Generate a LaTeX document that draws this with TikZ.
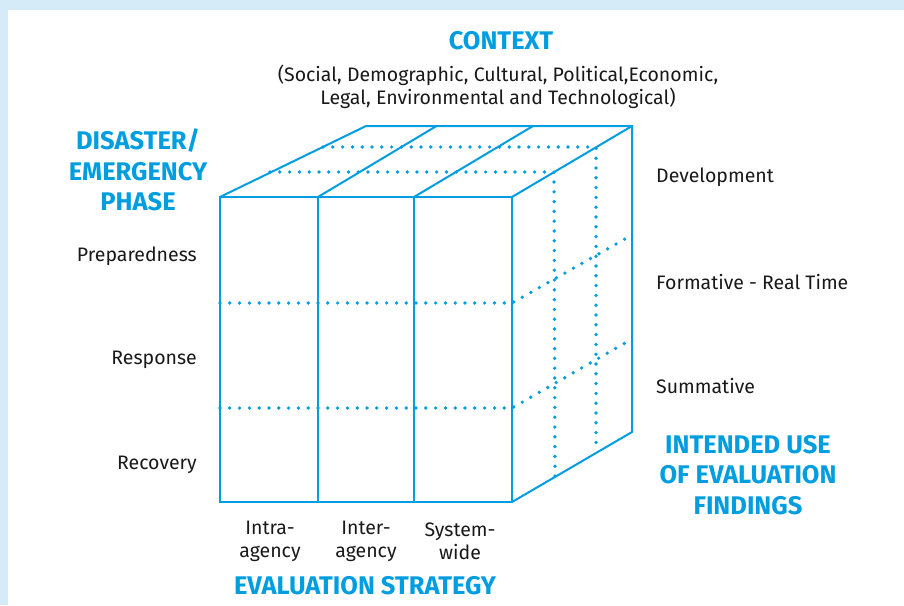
\documentclass[tikz,border=0pt]{standalone}
\usepackage{fontspec}
\setmainfont{Fira Sans}
\definecolor{cubeblue}{RGB}{0,158,224}
\definecolor{bandblue}{RGB}{214,235,248}
\begin{document}
\begin{tikzpicture}[x=1pt,y=-1pt,
  edge/.style={draw=cubeblue,line width=2pt,line join=miter},
  hidden/.style={draw=cubeblue,line width=3.7pt,line cap=round,dash pattern=on 0pt off 9.8pt},
  heading/.style={text=cubeblue,font=\fontsize{25.5}{30.5}\selectfont\bfseries,align=center,inner sep=0pt},
  label/.style={text=black!90,font=\fontsize{19.5}{23}\selectfont,inner sep=0pt},
]
\useasboundingbox (0,0) rectangle (904,605);
\fill[white] (0,0) rectangle (904,605);
\fill[bandblue] (0,0) rectangle (904,9.5);
\fill[bandblue] (0,0) rectangle (8,605);

% front face corners and column / row positions
\coordinate (F1) at (220,197);
\coordinate (F2) at (318,197);
\coordinate (F3) at (414,197);
\coordinate (F4) at (512,197);
\coordinate (B1) at (220,502);
\coordinate (B4) at (512,502);
% back top edge
\coordinate (T1) at (366,126);
\coordinate (T2) at (436.5,126);
\coordinate (T3) at (533,126);
\coordinate (T4) at (632,126);
% back right bottom
\coordinate (R4) at (632,432);

% hidden lines
\draw[hidden] (270,172) -- (554,172) -- (555,476);
\draw[hidden] (323,147) -- (596,147) -- (596,451);
\draw[hidden] (220,303) -- (512,303) -- (632,235);
\draw[hidden] (220,408) -- (512,408) -- (632,339);

% visible edges
\draw[edge] (F1) rectangle (B4);
\draw[edge] (F2) -- (318,502);
\draw[edge] (F3) -- (414,502);
\draw[edge] (F1) -- (T1) -- (T4) -- (R4) -- (B4);
\draw[edge] (F2) -- (T2);
\draw[edge] (F3) -- (T3);
\draw[edge] (F4) -- (T4);

% headings
\node[heading] (context) at (501,41) {CONTEXT};
\node[label,align=center] (factors) at (498,87) {(Social, Demographic, Cultural, Political,Economic,\\Legal, Environmental and Technological)};
\node[heading] (phase) at (138,170) {DISASTER/\\EMERGENCY\\PHASE};
\node[heading] (use) at (748,475) {INTENDED USE\\OF EVALUATION\\FINDINGS};
\node[heading] (strategy) at (365,586) {EVALUATION STRATEGY};

% phase rows
\node[label,anchor=east] (prep) at (197,256) {Preparedness};
\node[label,anchor=east] (resp) at (197,360) {Response};
\node[label,anchor=east] (reco) at (197,465) {Recovery};

% uses
\node[label,anchor=west] (dev) at (656,177) {Development};
\node[label,anchor=west] (form) at (656,282) {Formative - Real Time};
\node[label,anchor=west] (summ) at (656,386) {Summative};

% strategies
\node[label,align=center] (intra) at (270,541) {Intra-\\agency};
\node[label,align=center] (inter) at (366,541) {Inter-\\agency};
\node[label,align=center] (system) at (460,541) {System-\\wide};
\end{tikzpicture}
\end{document}
